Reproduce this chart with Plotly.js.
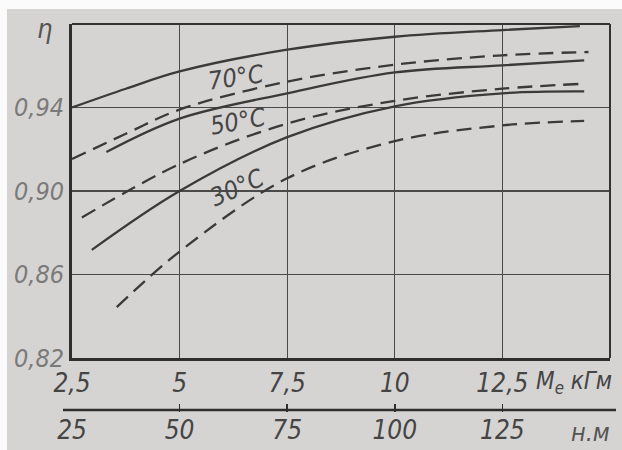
<!DOCTYPE html>
<html>
<head>
<meta charset="utf-8">
<script src="https://cdn.plot.ly/plotly-3.0.1.min.js"></script>
<style>
html,body{margin:0;padding:0;background:#fbfbfb;}
#wrap{position:relative;width:622px;height:450px;overflow:hidden;background:#fbfbfb;}
#bg{position:absolute;left:7px;top:9px;width:615px;height:441px;background:#d6d4d2;}
#chart{position:absolute;left:0;top:0;width:622px;height:450px;}
</style>
</head>
<body>
<div id="wrap"><div id="bg"></div><div id="chart"></div></div>
<script>
// Torque Me, kGm
const c1x = [2.5, 3.75, 5, 7.5, 10, 12.5, 14.3];
const c1y = [0.940, 0.949, 0.9573, 0.9677, 0.9739, 0.9771, 0.979];
const c2x = [2.5, 3.75, 5, 7.5, 10, 12.5, 14.5];
const c2y = [0.9153, 0.9274, 0.939, 0.9524, 0.9605, 0.965, 0.9666];
const c3x = [3.3, 5, 7.5, 10, 12.5, 14.4];
const c3y = [0.9187, 0.9347, 0.9468, 0.9568, 0.9602, 0.9626];
const c4x = [2.73, 5, 7.5, 10, 12.5, 14.3];
const c4y = [0.8873, 0.9129, 0.9323, 0.9432, 0.949, 0.9513];
const c5x = [2.96, 5, 7.5, 10, 12.5, 14.4];
const c5y = [0.8718, 0.900, 0.9258, 0.9406, 0.9468, 0.9477];
const c6x = [3.54, 5, 7.5, 10, 12.5, 14.4];
const c6y = [0.8444, 0.871, 0.9061, 0.9239, 0.9314, 0.9336];

const xTickVals = [2.5, 5, 7.5, 10, 12.5];
const xTickText = ['2,5', '5', '7,5', '10', '12,5'];
const x2TickVals = [25, 50, 75, 100, 125];
const x2TickText = ['25', '50', '75', '100', '125'];
const yTickVals = [0.82, 0.86, 0.90, 0.94];
const yTickText = ['0,82', '0,86', '0,90', '0,94'];
const tempLabels = ['70°C', '50°C', '30°C'];

const FONT = 'Liberation Sans Narrow, DejaVu Sans Condensed, sans-serif';
const INK = '#3a3a3a';
const CLEAR = 'rgba(0,0,0,0)';

function curve(x, y, dashed) {
  return {
    x: x, y: y, type: 'scatter', mode: 'lines',
    line: {color: INK, width: 2.3, shape: 'spline', smoothing: 1.0, dash: dashed ? '15px,8px' : 'solid'},
    hoverinfo: 'skip', showlegend: false
  };
}

const data = [
  curve(c1x, c1y, false),
  curve(c2x, c2y, true),
  curve(c3x, c3y, false),
  curve(c4x, c4y, true),
  curve(c5x, c5y, false),
  curve(c6x, c6y, true),
  {x: [25, 150], y: [0.5, 0.5], xaxis: 'x2', yaxis: 'y', type: 'scatter', mode: 'lines',
   line: {color: CLEAR}, hoverinfo: 'skip', showlegend: false}
];

const labFont = {family: FONT, size: 25, color: '#454545', style: 'italic'};
const axFont = {family: FONT, size: 26, color: '#454545', style: 'italic'};

// pixel helpers for paper-referenced items (plot area 72..610 x, 24..440 y)
const PW = 622 - 72 - 12, PH = 450 - 24 - 10;
const px = v => (v - 72) / PW;
const py = v => 1 - (v - 24) / PH;

const layout = {
  width: 622, height: 450,
  margin: {l: 72, r: 12, t: 24, b: 10},
  paper_bgcolor: CLEAR, plot_bgcolor: CLEAR,
  showlegend: false,
  xaxis: {
    range: [2.5, 15], domain: [0, 1],
    tickvals: xTickVals, ticktext: xTickText,
    showgrid: true, gridcolor: '#4a4a4a', gridwidth: 1.3,
    showline: true, linecolor: '#2e2e2e', linewidth: 3,
    ticks: '', zeroline: false,
    tickfont: axFont,
    anchor: 'y'
  },
  xaxis2: {
    range: [25, 150], overlaying: 'x', anchor: 'free', position: py(412),
    tickvals: x2TickVals, ticktext: x2TickText,
    showgrid: false, zeroline: false,
    showline: false,
    ticks: 'inside', ticklen: 8, tickwidth: 1.5, tickcolor: '#2e2e2e',
    tickfont: axFont
  },
  yaxis: {
    range: [0.82, 0.98], domain: [0.197, 1],
    tickvals: yTickVals, ticktext: yTickText,
    showgrid: true, gridcolor: '#4a4a4a', gridwidth: 1.3,
    showline: true, linecolor: '#2e2e2e', linewidth: 3,
    ticks: '', zeroline: false,
    tickfont: {family: FONT, size: 25, color: '#7a7a7a', style: 'italic'}
  },
  shapes: [
    {type: 'line', xref: 'paper', yref: 'paper', x0: 0, x1: 1, y0: 1, y1: 1, line: {color: '#333', width: 2.2}},
    {type: 'line', xref: 'paper', yref: 'paper', x0: 1, x1: 1, y0: 0.197, y1: 1, line: {color: '#333', width: 2}},
    {type: 'line', xref: 'paper', yref: 'paper', x0: px(63), x1: px(616), y0: py(410), y1: py(410), line: {color: '#2e2e2e', width: 2.5}}
  ],
  annotations: [
    {text: tempLabels[0], x: 6.31, y: 0.9546, xref: 'x', yref: 'y', showarrow: false, textangle: -8, font: labFont},
    {text: tempLabels[1], x: 6.36, y: 0.9335, xref: 'x', yref: 'y', showarrow: false, textangle: -10, font: labFont},
    {text: tempLabels[2], x: 6.34, y: 0.9019, xref: 'x', yref: 'y', showarrow: false, textangle: -24, font: labFont},
    {text: 'η', x: px(44), y: py(29), xref: 'paper', yref: 'paper', xanchor: 'center', yanchor: 'middle', showarrow: false, font: {family: FONT, size: 27, color: '#555', style: 'italic'}},
    {text: 'M<sub>e</sub> кГм', x: px(574), y: py(382), xref: 'paper', yref: 'paper', xanchor: 'center', yanchor: 'middle', showarrow: false, font: {family: FONT, size: 24, color: '#454545', style: 'italic'}},
    {text: 'н.м', x: px(590), y: py(432), xref: 'paper', yref: 'paper', xanchor: 'center', yanchor: 'middle', showarrow: false, font: {family: FONT, size: 25, color: '#555', style: 'italic'}}
  ]
};

Plotly.newPlot('chart', data, layout, {staticPlot: true});
</script>
</body>
</html>
